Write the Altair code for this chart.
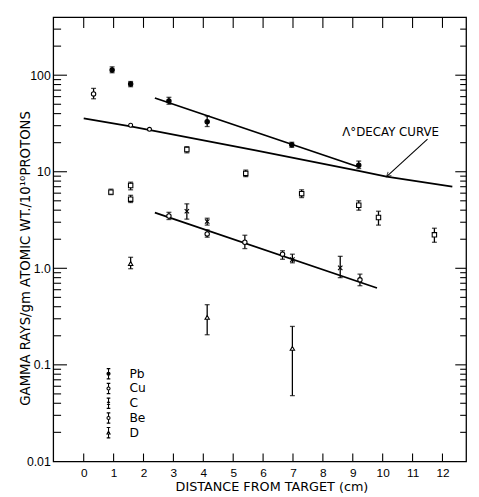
import altair as alt
import pandas as pd

# ---------------- data ----------------
elements = ["Pb", "Cu", "C", "Be", "D"]

pb_x = [0.95, 1.57, 2.85, 4.13, 6.96, 9.2]
pb_y = [113, 81, 54, 33, 19, 11.7]
pb_lo = [106, 76, 50, 29.4, 17.9, 10.8]
pb_hi = [122, 86, 59, 37.8, 20.2, 12.9]

cu_x = [0.33, 2.85, 4.13, 5.39, 6.65, 9.24]
cu_y = [64, 3.48, 2.27, 1.86, 1.40, 0.76]
cu_lo = [57, 3.2, 2.1, 1.6, 1.24, 0.66]
cu_hi = [73, 3.8, 2.5, 2.2, 1.52, 0.87]

c_x = [3.45, 4.13, 6.98, 8.58]
c_y = [3.9, 3.05, 1.23, 1.01]
c_lo = [3.23, 2.8, 1.14, 0.8]
c_hi = [4.65, 3.3, 1.4, 1.33]

be_x = [0.91, 1.57, 1.57, 3.45, 5.42, 7.29, 9.2, 9.86, 11.73]
be_y = [6.15, 7.2, 5.2, 17, 9.6, 5.93, 4.5, 3.36, 2.22]
be_lo = [5.8, 6.5, 4.8, 15.7, 8.9, 5.4, 4.0, 2.8, 1.86]
be_hi = [6.6, 7.8, 5.7, 18.2, 10.4, 6.5, 5.0, 3.9, 2.6]

d_x = [1.57, 4.13, 6.98]
d_y = [1.12, 0.31, 0.148]
d_lo = [0.99, 0.205, 0.048]
d_hi = [1.3, 0.42, 0.25]

calc_x = [1.57, 2.2]
calc_y = [30.3, 27.5]

pb_fit_x = [2.38, 9.2]
pb_fit_y = [58, 11.2]
cu_fit_x = [2.38, 9.81]
cu_fit_y = [3.77, 0.625]
decay_x = [0, 1.57, 5.75, 9.2, 10.13, 12.33]
decay_y = [35.7, 29.5, 16.6, 10.2, 8.9, 7.0]

label_text = ["\u039b\u00b0DECAY CURVE"]
label_x = [8.65]
label_y = [23.2]
arrow_x = [11.5]
arrow_y = [21.8]
arrow_x2 = [10.13]
arrow_y2 = [8.9]

x_ticks = list(range(0, 13))
y_labels = [0.01, 0.1, 1, 10, 100]
y_major = [0.1, 1, 10, 100]
y_minor = [k * 10.0 ** e for e in range(-2, 3) for k in range(2, 10) if k * 10.0 ** e < 400]

# ---------------- tables ----------------
series = {
    "Pb": (pb_x, pb_y, pb_lo, pb_hi),
    "Cu": (cu_x, cu_y, cu_lo, cu_hi),
    "C": (c_x, c_y, c_lo, c_hi),
    "Be": (be_x, be_y, be_lo, be_hi),
    "D": (d_x, d_y, d_lo, d_hi),
}
rows, bars, caps = [], [], []
for el, (xs_, ys_, los, his) in series.items():
    for xv, yv, lo, hi in zip(xs_, ys_, los, his):
        rows.append({"x": xv, "y": yv, "elem": el})
        bars.append({"x": xv, "y": lo, "y2": hi})
        caps.append({"x": xv, "y": lo})
        caps.append({"x": xv, "y": hi})
pts = pd.DataFrame(rows)
bar_df = pd.DataFrame(bars)
cap_df = pd.DataFrame(caps)
calc_df = pd.DataFrame({"x": calc_x, "y": calc_y})
leg_df = pd.DataFrame({"elem": elements})

lines = []
for lid, (lx, ly) in {"pb": (pb_fit_x, pb_fit_y), "cu": (cu_fit_x, cu_fit_y),
                      "decay": (decay_x, decay_y)}.items():
    for i, (a, b) in enumerate(zip(lx, ly)):
        lines.append({"x": a, "y": b, "id": lid, "o": i})
line_df = pd.DataFrame(lines)

W, H = 420, 452
FONT = "Liberation Sans"
TFONT = "DejaVu Sans"
xs = alt.Scale(domain=[-1.02, 12.79], nice=False, zero=False)
ys = alt.Scale(type="log", domain=[0.01, 400], nice=False)

X = alt.X("x:Q", scale=xs, axis=alt.Axis(
    values=x_ticks, ticks=False, domain=False, grid=False, labelPadding=6,
    labelFontSize=12, labelFont=FONT, labelColor="black", labelFlush=False,
    labelOverlap=False, title="DISTANCE FROM TARGET (cm)", titleFont=TFONT,
    titleFontSize=13, titleFontWeight="normal", titleColor="black",
    titleX=222, titleY=30, titleBaseline="alphabetic", titleAlign="center"))
Y = alt.Y("y:Q", scale=ys, axis=alt.Axis(
    values=y_labels,
    labelExpr="datum.value >= 10 ? format(datum.value, 'd') : (datum.value == 1 ? '1.0' : toString(datum.value))",
    ticks=False, domain=False, grid=False, labelPadding=3, labelFontSize=12.5,
    labelFont=FONT, labelColor="black", labelFlush=False, labelOverlap=False,
    title="GAMMA RAYS/gm  ATOMIC WT./10\u00b9\u2070PROTONS", titleFont=TFONT,
    titleFontSize=13.5, titleFontWeight="normal", titleColor="black",
    titleAngle=270, titleX=-24.5, titleY=245, titleAlign="center",
    titleBaseline="alphabetic"))

tick_style = dict(color="black", strokeWidth=1.1)
ymaj = pd.DataFrame({"y": y_major})
ymin = pd.DataFrame({"y": y_minor})
xt = pd.DataFrame({"x": x_ticks})

ticks = [
    alt.Chart(ymaj).mark_rule(**tick_style).encode(y=Y, x=alt.value(0), x2=alt.value(14)),
    alt.Chart(ymin).mark_rule(**tick_style).encode(y=Y, x=alt.value(0), x2=alt.value(8)),
    alt.Chart(ymaj).mark_rule(**tick_style).encode(y=Y, x=alt.value(W), x2=alt.value(W - 11)),
    alt.Chart(ymin).mark_rule(**tick_style).encode(y=Y, x=alt.value(W), x2=alt.value(W - 6)),
    alt.Chart(xt).mark_rule(**tick_style).encode(x=X, y=alt.value(H), y2=alt.value(H - 8)),
    alt.Chart(xt).mark_rule(**tick_style).encode(x=X, y=alt.value(0), y2=alt.value(11)),
]

fit = alt.Chart(line_df).mark_line(color="black", strokeWidth=1.8).encode(
    x=X, y=Y, detail="id:N", order="o:Q")

err = alt.Chart(bar_df).mark_rule(color="black", strokeWidth=1.3).encode(
    x=X, y=Y, y2="y2:Q")
cap = alt.Chart(cap_df).mark_point(shape="M-1,0L1,0", size=25, color="black",
                                   strokeWidth=1.3, filled=False).encode(x=X, y=Y)

shape_range = ["circle", "circle", "M-1,-1L1,1M1,-1L-1,1", "square", "triangle-up"]
fill_range = ["black", "white", "white", "white", "white"]
points = alt.Chart(pts).mark_point(stroke="black", strokeWidth=1.1, size=20,
                                   opacity=1, fillOpacity=1).encode(
    x=X, y=Y,
    shape=alt.Shape("elem:N", scale=alt.Scale(domain=elements, range=shape_range), legend=None),
    fill=alt.Fill("elem:N", scale=alt.Scale(domain=elements, range=fill_range), legend=None),
)
calc = alt.Chart(calc_df).mark_point(shape="circle", size=16, stroke="black",
                                     fill="white", fillOpacity=1, strokeWidth=1.1).encode(x=X, y=Y)

# legend glyphs: error bar with the element's symbol
BAR = "M0,-1L0,-0.32M0,0.32L0,1M-0.35,-1L0.35,-1M-0.35,1L0.35,1"
CIRC = "M-0.3,0A0.3,0.3 0 1,0 0.3,0A0.3,0.3 0 1,0 -0.3,0Z"
glyphs = [
    BAR + CIRC,
    BAR + CIRC,
    "M0,-1L0,1M-0.35,-1L0.35,-1M-0.35,1L0.35,1M-0.28,-0.28L0.28,0.28M0.28,-0.28L-0.28,0.28",
    BAR + CIRC,
    "M0,-1L0,-0.3M0,0.25L0,1M-0.35,-1L0.35,-1M-0.35,1L0.35,1M-0.3,0.25L0,-0.3L0.3,0.25Z",
]
leg = alt.Legend(orient="none", legendX=50, legendY=356, title=None,
                 labelFont=TFONT, labelFontSize=12.5, labelColor="black",
                 symbolStrokeWidth=1.1, symbolSize=110, symbolOpacity=1,
                 rowPadding=1, clipHeight=13.7, labelOffset=15, padding=0)
legend_layer = alt.Chart(leg_df).mark_point(size=0, strokeWidth=1.1, opacity=1).encode(
    x=alt.value(-50), y=alt.value(-50),
    shape=alt.Shape("elem:N", scale=alt.Scale(domain=elements, range=glyphs), legend=leg),
    fill=alt.Fill("elem:N", scale=alt.Scale(domain=elements, range=fill_range), legend=leg),
    stroke=alt.Stroke("elem:N", scale=alt.Scale(domain=elements, range=["black"] * 5), legend=leg),
)

ann_df = pd.DataFrame({"x": label_x, "y": label_y, "t": label_text})
ann = alt.Chart(ann_df).mark_text(align="left", baseline="alphabetic", font=TFONT,
                                  fontSize=12, color="black").encode(x=X, y=Y, text="t:N")
arr_df = pd.DataFrame({"x": arrow_x, "y": arrow_y, "x2": arrow_x2, "y2": arrow_y2})
arrow = alt.Chart(arr_df).mark_rule(color="black", strokeWidth=1.1).encode(
    x=X, y=Y, x2="x2:Q", y2="y2:Q")
head_df = pd.DataFrame({"x": arrow_x2, "y": arrow_y2})
head = alt.Chart(head_df).mark_point(shape="M-0.55,-1L0,0L0.55,-1", size=80, angle=47,
                                     color="black", strokeWidth=1.1, filled=False).encode(x=X, y=Y)

chart = alt.layer(*ticks, fit, err, cap, calc, points, legend_layer, ann, arrow, head).resolve_scale(
    shape="independent", fill="independent", stroke="independent"
).properties(
    width=W, height=H,
    autosize=alt.AutoSizeParams(type="none"),
    padding={"left": 46, "top": 5, "right": 5, "bottom": 32},
    background="white",
).configure_view(stroke="black", strokeWidth=1.3)

chart.save("out.html", embed_options={"renderer": "svg", "actions": False})
